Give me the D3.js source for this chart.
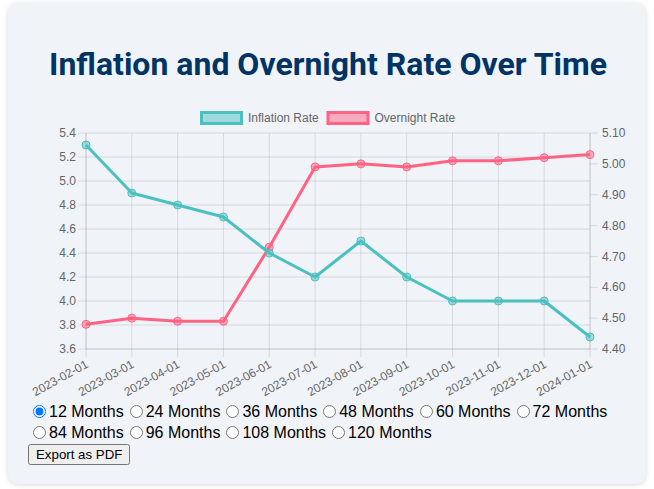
<!DOCTYPE html>
<html>
<head>
<meta charset="utf-8">
<script src="https://cdn.jsdelivr.net/npm/d3@7"></script>
<style>
  body { margin: 0; background: #fff; font-family: "Liberation Sans", Arial, sans-serif; }
  #card {
    position: absolute; left: 8px; top: 3px; width: 638px; height: 481px;
    background: #f0f3f8; border-radius: 10px;
    box-shadow: 0 1px 5px rgba(0,0,0,0.15);
  }
  #chart { position: absolute; left: 0; top: 0; }
  #controls {
    position: absolute; left: 28px; top: 401px; width: 600px;
    font-size: 16px; line-height: 21px; color: #000;
  }
  #controls label { white-space: nowrap; margin-right: 1px; }
  #controls input { margin: 3px 3px 0 5px; vertical-align: -1px; }
  #controls button { margin-top: 0; font-family: "Liberation Sans", Arial, sans-serif; font-size: 13.3px; }
</style>
</head>
<body>
<div id="card"></div>
<svg id="chart" width="654" height="489"></svg>
<div id="controls"></div>
<script>
var months = ["2023-02-01","2023-03-01","2023-04-01","2023-05-01","2023-06-01","2023-07-01",
              "2023-08-01","2023-09-01","2023-10-01","2023-11-01","2023-12-01","2024-01-01"];
var inflation = [5.3, 4.9, 4.8, 4.7, 4.4, 4.2, 4.5, 4.2, 4.0, 4.0, 4.0, 3.7];
var overnight = [4.48, 4.50, 4.49, 4.49, 4.73, 4.99, 5.00, 4.99, 5.01, 5.01, 5.02, 5.03];
var leftTicks = [3.6, 3.8, 4.0, 4.2, 4.4, 4.6, 4.8, 5.0, 5.2, 5.4];
var rightTicks = [4.4, 4.5, 4.6, 4.7, 4.8, 4.9, 5.0, 5.1];
var ranges = ["12 Months","24 Months","36 Months","48 Months","60 Months","72 Months",
              "84 Months","96 Months","108 Months","120 Months"];

var svg = d3.select("#chart");
var grid = "rgba(0,0,0,0.1)";
var teal = "rgb(75,192,192)", pink = "rgb(255,99,132)";

var x = d3.scalePoint().domain(months).range([86, 590]);
var yL = d3.scaleLinear().domain([3.6, 5.4]).range([349, 133]);
var yR = d3.scaleLinear().domain([4.4, 5.1]).range([349, 133]);

// title
svg.append("text")
    .attr("x", 328).attr("y", 75)
    .attr("text-anchor", "middle")
    .style("font-family", "Roboto, sans-serif")
    .style("font-weight", "700")
    .style("font-size", "32px")
    .attr("fill", "#003366")
    .text("Inflation and Overnight Rate Over Time");

// legend
var legend = [
    {name: "Inflation Rate", c: teal, f: "rgba(75,192,192,0.5)", x: 201.5},
    {name: "Overnight Rate", c: pink, f: "rgba(255,99,132,0.5)", x: 328}
];
var lg = svg.append("g");
lg.selectAll("rect").data(legend).enter().append("rect")
    .attr("x", d => d.x).attr("y", 112.5).attr("width", 40).attr("height", 11)
    .attr("fill", d => d.f).attr("stroke", d => d.c).attr("stroke-width", 3);
lg.selectAll("text").data(legend).enter().append("text")
    .attr("x", d => d.x + 46.5).attr("y", 122)
    .style("font-family", "'Liberation Sans', Arial, sans-serif")
    .style("font-size", "12px")
    .attr("fill", "#666")
    .text(d => d.name);

// grid
var g = svg.append("g");
g.selectAll(".hg").data(leftTicks).enter().append("line")
    .attr("x1", 78).attr("x2", 590)
    .attr("y1", d => yL(d)).attr("y2", d => yL(d))
    .attr("stroke", grid);
g.selectAll(".vg").data(months).enter().append("line")
    .attr("x1", d => x(d)).attr("x2", d => x(d))
    .attr("y1", 133).attr("y2", 357)
    .attr("stroke", grid);
g.selectAll(".rt").data(rightTicks).enter().append("line")
    .attr("x1", 590).attr("x2", 598)
    .attr("y1", d => yR(d)).attr("y2", d => yR(d))
    .attr("stroke", grid);
// axis borders
g.append("line").attr("x1", 86).attr("x2", 86).attr("y1", 133).attr("y2", 349).attr("stroke", grid);
g.append("line").attr("x1", 590).attr("x2", 590).attr("y1", 133).attr("y2", 349).attr("stroke", grid);
g.append("line").attr("x1", 86).attr("x2", 590).attr("y1", 349).attr("y2", 349).attr("stroke", grid);

var tickFont = function(sel) {
    sel.style("font-family", "'Liberation Sans', Arial, sans-serif")
       .style("font-size", "12px").attr("fill", "#666");
};
svg.append("g").selectAll("text").data(leftTicks).enter().append("text")
    .attr("x", 76).attr("y", d => yL(d)).attr("dy", "0.35em")
    .attr("text-anchor", "end")
    .call(tickFont)
    .text(d => d.toFixed(1));
svg.append("g").selectAll("text").data(rightTicks).enter().append("text")
    .attr("x", 602).attr("y", d => yR(d)).attr("dy", "0.35em")
    .call(tickFont)
    .text(d => d.toFixed(2));
svg.append("g").selectAll("text").data(months).enter().append("text")
    .attr("transform", d => "translate(" + (x(d) + 1) + ",363) rotate(-29)")
    .attr("dy", "0.35em")
    .attr("text-anchor", "end")
    .call(tickFont)
    .text(d => d);

// series
function series(vals, scale, col, fill) {
    var pts = months.map((m, i) => [x(m), scale(vals[i])]);
    svg.append("path")
        .attr("d", d3.line()(pts))
        .attr("fill", "none").attr("stroke", col).attr("stroke-width", 3)
        .attr("stroke-linejoin", "round");
    svg.append("g").selectAll("circle").data(pts).enter().append("circle")
        .attr("cx", d => d[0]).attr("cy", d => d[1]).attr("r", 4)
        .attr("fill", fill).attr("stroke", col).attr("stroke-width", 1);
}
series(overnight, yR, pink, "rgba(255,99,132,0.5)");
series(inflation, yL, teal, "rgba(75,192,192,0.5)");

// controls
var ctl = d3.select("#controls");
ranges.forEach(function(r, i) {
    var lab = ctl.append("label");
    lab.append("input").attr("type", "radio").attr("name", "range")
        .property("checked", i === 0);
    lab.append("span").text(r);
});
ctl.append("br");
ctl.append("button").text("Export as PDF");
</script>
</body>
</html>
